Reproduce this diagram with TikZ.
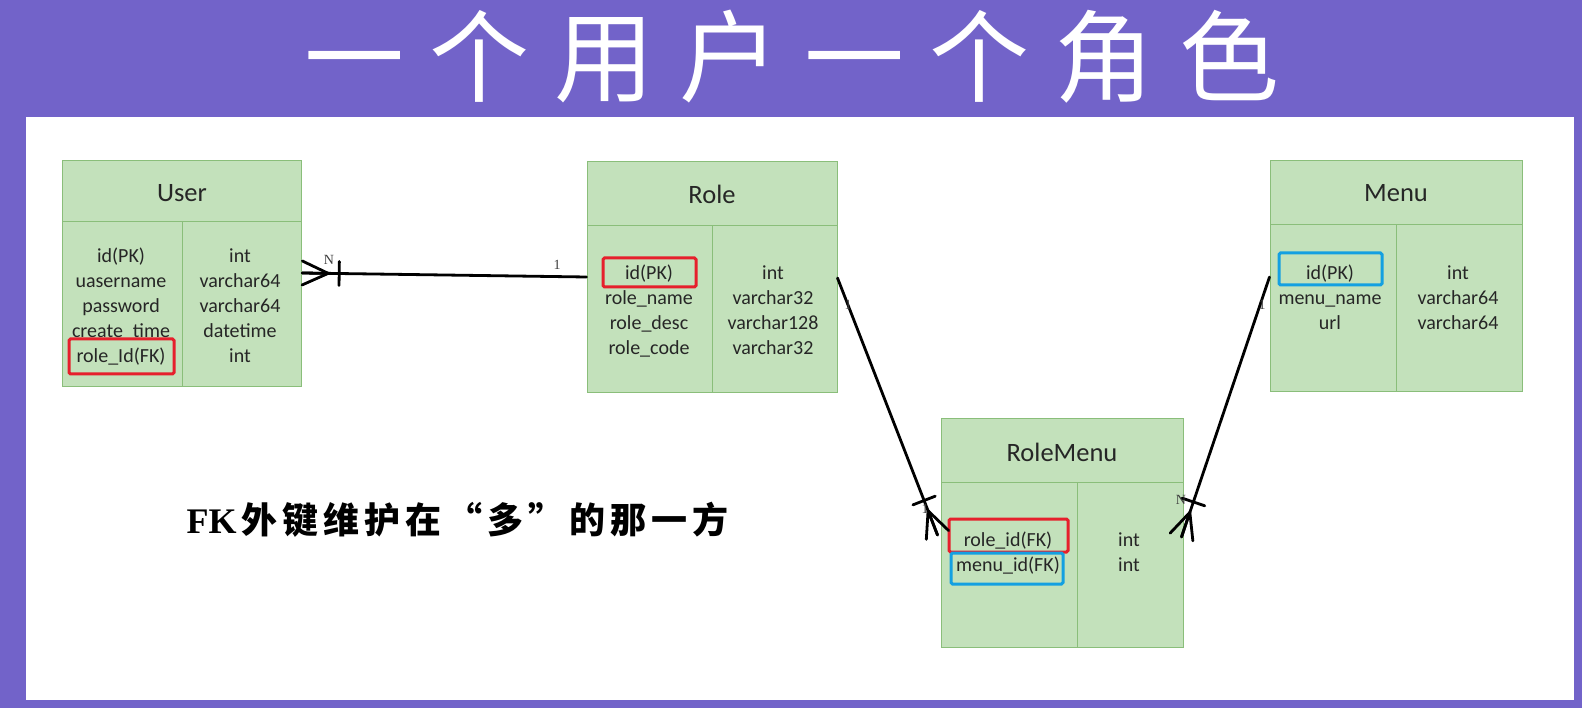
\documentclass[tikz,border=0pt]{standalone}
\usepackage{fontspec}
\setmainfont{Carlito}
\newfontfamily\cjk{Noto Sans CJK SC}
\newfontfamily\lblfont{Liberation Serif}
\usetikzlibrary{calc}
\definecolor{bgpurple}{RGB}{114,99,201}
\definecolor{tblfill}{RGB}{195,225,187}
\definecolor{tblborder}{RGB}{138,190,122}
\definecolor{txt}{RGB}{38,38,38}
\definecolor{redc}{RGB}{230,32,44}
\definecolor{bluec}{RGB}{20,160,225}
\definecolor{lblc}{RGB}{60,60,60}
\newcommand\erCrow[2]{%
  \coordinate (cf-c) at ($(#1)!26pt!(#2)$);
  \coordinate (cf-b) at ($(#1)!37pt!(#2)$);
  \draw[conn] ($(#1)!12pt!90:(#2)$) -- (cf-c) -- ($(#1)!12pt!-90:(#2)$);
  \draw[conn] (cf-c) -- (#1);
  \draw[conn] ($(cf-b)!12pt!90:(#2)$) -- ($(cf-b)!12pt!-90:(#2)$);
}
\newcommand\gp{\hspace{5pt}}
\begin{document}
\begin{tikzpicture}[x=1pt,y=-1pt,
  tbl/.style={draw=tblborder, fill=tblfill, line width=1pt, inner sep=0pt},
  tblline/.style={draw=tblborder, line width=1pt},
  ttl/.style={font=\fontsize{26.5}{30}\selectfont, text=txt},
  fld/.style={font=\fontsize{20}{24}\selectfont, text=txt, inner sep=0pt, text height=14pt, text depth=1pt},
  redbox/.style={draw=redc, line width=3pt, rounded corners=1.5pt, inner sep=0pt},
  bluebox/.style={draw=bluec, line width=3pt, rounded corners=1.5pt, inner sep=0pt},
  conn/.style={draw=black, line width=2.8pt, line cap=round, line join=round},
  lbl/.style={font=\lblfont\fontsize{14}{14}\selectfont, text=lblc, inner sep=0pt}]
% background
\fill[bgpurple] (0,0) rectangle (1582,708);
\fill[white] (26,117) rectangle (1574,700);
\useasboundingbox (0,0) rectangle (1582,708);
% title
\node[text=white, font=\cjk\fontsize{100}{110}\selectfont] (title) at (792,57)
  {一\hspace{25pt}个\hspace{25pt}用\hspace{25pt}户\hspace{25pt}一\hspace{25pt}个\hspace{25pt}角\hspace{25pt}色};
% ---- User
\node[tbl, minimum width=239pt, minimum height=226pt] (user) at (182.2,274) {};
\draw[tblline] (62.7,222) -- (301.7,222);
\draw[tblline] (182,222) -- (182,387);
\node[ttl] (user-t) at (182,193) {User};
\foreach \t [count=\i] in {id(PK),uasername,password,create\_time,role\_Id(FK)}
  \node[fld] (user-k\i) at (121,{231+25*\i}) {\t};
\foreach \t [count=\i] in {int,varchar64,varchar64,datetime,int}
  \node[fld] (user-v\i) at (240,{231+25*\i}) {\t};
\node[redbox, minimum width=105pt, minimum height=35pt] (user-fk) at (121.5,356.5) {};
% ---- Role
\node[tbl, minimum width=250pt, minimum height=231pt] (role) at (712,277.5) {};
\draw[tblline] (587,226) -- (837,226);
\draw[tblline] (712,226) -- (712,393);
\node[ttl] (role-t) at (712,194) {Role};
\foreach \t [count=\i] in {id(PK),role\_name,role\_desc,role\_code}
  \node[fld] (role-k\i) at (649,{248+25*\i}) {\t};
\foreach \t [count=\i] in {int,varchar32,varchar128,varchar32}
  \node[fld] (role-v\i) at (773,{248+25*\i}) {\t};
\node[redbox, minimum width=93pt, minimum height=29pt] (role-pk) at (649.5,272.5) {};
% ---- Menu
\node[tbl, minimum width=252pt, minimum height=231pt] (menu) at (1396,276.5) {};
\draw[tblline] (1270,225) -- (1522,225);
\draw[tblline] (1396,225) -- (1396,392);
\node[ttl] (menu-t) at (1396,193) {Menu};
\foreach \t [count=\i] in {id(PK),menu\_name,url}
  \node[fld] (menu-k\i) at (1330,{248+25*\i}) {\t};
\foreach \t [count=\i] in {int,varchar64,varchar64}
  \node[fld] (menu-v\i) at (1458,{248+25*\i}) {\t};
\node[bluebox, minimum width=103pt, minimum height=32pt] (menu-pk) at (1330.5,269) {};
% ---- RoleMenu
\node[tbl, minimum width=242pt, minimum height=229pt] (rm) at (1062,532.5) {};
\draw[tblline] (941,482) -- (1183,482);
\draw[tblline] (1077,482) -- (1077,647);
\node[ttl] (rm-t) at (1062,452) {RoleMenu};
\foreach \t [count=\i] in {role\_id(FK),menu\_id(FK)}
  \node[fld] (rm-k\i) at (1008,{515+25*\i}) {\t};
\foreach \t [count=\i] in {int,int}
  \node[fld] (rm-v\i) at (1129,{515+25*\i}) {\t};
\node[redbox, minimum width=119pt, minimum height=33pt] (rm-fk1) at (1008.5,535.5) {};
\node[bluebox, minimum width=112pt, minimum height=31pt] (rm-fk2) at (1007,568.5) {};
% ---- connectors
\coordinate (c1a) at (role.west |- 0,277);
\coordinate (c1e) at (user.east |- 0,273);
\draw[conn] (c1a) -- (c1e);
\erCrow{c1e}{c1a}
\coordinate (c2a) at (role.east |- 0,278);
\coordinate (c2e) at ($(rm.west |- 0,535)+(-3,0)$);
\draw[conn] (c2a) -- (c2e);
\erCrow{c2e}{c2a}
\coordinate (c3a) at (menu.west |- 0,277);
\coordinate (c3e) at ($(rm.east |- 0,537)+(-2,0)$);
\draw[conn] (c3a) -- (c3e);
\erCrow{c3e}{c3a}
% cardinality labels
\node[lbl] (l1n) at (329,260) {N};
\node[lbl] (l1o) at (557,265) {1};
\node[lbl] (l2o) at (848,305) {1};
\node[lbl] (l2m) at (925,509) {1};
\node[lbl] (l3o) at (1262,305) {1};
\node[lbl] (l3m) at (1181,500) {N};
% note
\node[anchor=west, text=black, font=\cjk\bfseries\fontsize{36}{40}\selectfont] (note) at (183,520)
  {{\lblfont\bfseries FK}\gp 外\gp 键\gp 维\gp 护\gp 在\gp “\gp 多\gp ”\gp 的\gp 那\gp 一\gp 方};
\end{tikzpicture}
\end{document}
